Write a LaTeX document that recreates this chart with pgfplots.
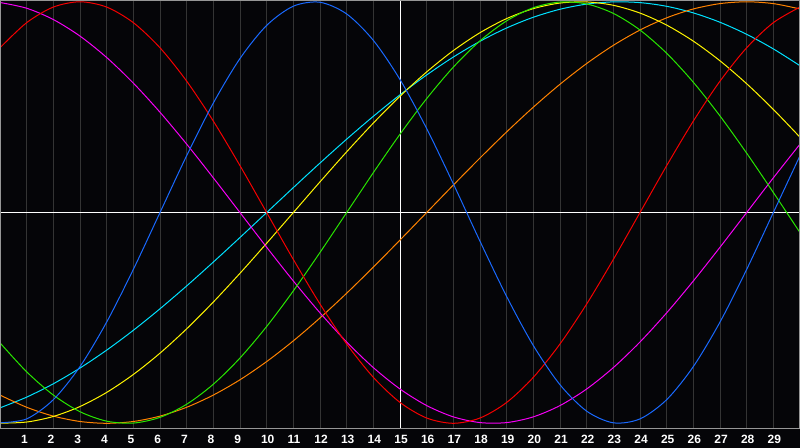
\documentclass[border=0pt]{standalone}
\usepackage{pgfplots}
\pgfplotsset{compat=1.18}
\usepackage{fontspec}
\setmainfont{Liberation Sans}
\definecolor{bg}{RGB}{5,5,8}
\definecolor{gridc}{RGB}{52,52,52}
\definecolor{framec}{RGB}{150,150,150}
\definecolor{cblue}{RGB}{25,105,255}
\definecolor{cred}{RGB}{245,0,0}
\definecolor{cgreen}{RGB}{40,230,0}
\definecolor{cmag}{RGB}{245,0,245}
\definecolor{cyel}{RGB}{255,245,0}
\definecolor{corange}{RGB}{255,130,0}
\definecolor{ccyan}{RGB}{0,225,255}
\begin{document}
\begin{tikzpicture}
\fill[bg] (0,0) rectangle (800bp,448bp);
\begin{axis}[
  at={(0bp,20bp)}, anchor=south west,
  width=800bp, height=428bp, scale only axis,
  xmin=0, xmax=30, ymin=-1.0223, ymax=1.0085,
  axis line style={draw=none},
  xtick={1,...,29},
  xticklabels={1,2,3,4,5,6,7,8,9,10,11,12,13,14,15,16,17,18,19,20,21,22,23,24,25,26,27,28,29},
  ytick=\empty,
  major tick length=0pt,
  tick style={draw=none},
  xmajorgrids,
  grid style={draw=gridc, line width=1bp},
  xticklabel style={font=\bfseries\fontsize{12bp}{12bp}\selectfont, text=white, anchor=base west, inner sep=0pt, xshift=-5.8bp, yshift=-15.3bp},
  xticklabel shift=0pt,
  every axis plot/.append style={line width=1bp, no marks, smooth},
  clip=true,
]
\draw[white, line width=1bp] (axis cs:15,-2) -- (axis cs:15,2);
\draw[white, line width=1bp] (axis cs:-1,0) -- (axis cs:31,0);
% 53
\addplot[ccyan] coordinates {(0,-0.9267)(1,-0.8758)(2,-0.8125)(3,-0.7378)(4,-0.6528)(5,-0.5587)(6,-0.4566)(7,-0.3482)(8,-0.2349)(9,-0.1183)(10,0)(11,0.1183)(12,0.2349)(13,0.3482)(14,0.4566)(15,0.5587)(16,0.6528)(17,0.7378)(18,0.8125)(19,0.8758)(20,0.9267)(21,0.9646)(22,0.9890)(23,0.9996)(24,0.9961)(25,0.9786)(26,0.9473)(27,0.9028)(28,0.8457)(29,0.7765)(30,0.6966)};
% 48
\addplot[corange] coordinates {(0,-0.8660)(1,-0.9239)(2,-0.9659)(3,-0.9914)(4,-1)(5,-0.9914)(6,-0.9659)(7,-0.9239)(8,-0.8660)(9,-0.7934)(10,-0.7071)(11,-0.6088)(12,-0.5)(13,-0.3827)(14,-0.2588)(15,-0.1305)(16,0)(17,0.1305)(18,0.2588)(19,0.3827)(20,0.5)(21,0.6088)(22,0.7071)(23,0.7934)(24,0.8660)(25,0.9239)(26,0.9659)(27,0.9914)(28,1)(29,0.9914)(30,0.9659)};
% 43
\addplot[cyel] coordinates {(0,-0.9993)(1,-0.9940)(2,-0.9675)(3,-0.9204)(4,-0.8534)(5,-0.7684)(6,-0.6672)(7,-0.5518)(8,-0.4245)(9,-0.2881)(10,-0.1456)(11,0)(12,0.1456)(13,0.2881)(14,0.4245)(15,0.5518)(16,0.6672)(17,0.7684)(18,0.8534)(19,0.9204)(20,0.9675)(21,0.9940)(22,0.9993)(23,0.9834)(24,0.9465)(25,0.8894)(26,0.8133)(27,0.7199)(28,0.6112)(29,0.4894)(30,0.3573)};
% 38
\addplot[cmag] coordinates {(0,0.9966)(1,0.9694)(2,0.9158)(3,0.8372)(4,0.7357)(5,0.6142)(6,0.4759)(7,0.3247)(8,0.1646)(9,0)(10,-0.1646)(11,-0.3247)(12,-0.4759)(13,-0.6142)(14,-0.7357)(15,-0.8372)(16,-0.9158)(17,-0.9694)(18,-0.9966)(19,-0.9966)(20,-0.9694)(21,-0.9158)(22,-0.8372)(23,-0.7357)(24,-0.6142)(25,-0.4759)(26,-0.3247)(27,-0.1646)(28,0)(29,0.1646)(30,0.3247)};
% 33
\addplot[cgreen] coordinates {(0,-0.6182)(1,-0.7557)(2,-0.8660)(3,-0.9450)(4,-0.9898)(5,-0.9989)(6,-0.9718)(7,-0.9096)(8,-0.8146)(9,-0.6901)(10,-0.5406)(11,-0.3717)(12,-0.1893)(13,0)(14,0.1893)(15,0.3717)(16,0.5406)(17,0.6901)(18,0.8146)(19,0.9096)(20,0.9718)(21,0.9989)(22,0.9898)(23,0.9450)(24,0.8660)(25,0.7557)(26,0.6182)(27,0.4582)(28,0.2817)(29,0.0951)(30,-0.0951)};
% 28
\addplot[cred] coordinates {(0,0.7818)(1,0.9010)(2,0.9749)(3,1)(4,0.9749)(5,0.9010)(6,0.7818)(7,0.6235)(8,0.4339)(9,0.2225)(10,0)(11,-0.2225)(12,-0.4339)(13,-0.6235)(14,-0.7818)(15,-0.9010)(16,-0.9749)(17,-1)(18,-0.9749)(19,-0.9010)(20,-0.7818)(21,-0.6235)(22,-0.4339)(23,-0.2225)(24,0)(25,0.2225)(26,0.4339)(27,0.6235)(28,0.7818)(29,0.9010)(30,0.9749)};
% 23
\addplot[cblue] coordinates {(0,-0.9977)(1,-0.9791)(2,-0.8879)(3,-0.7308)(4,-0.5196)(5,-0.2698)(6,0)(7,0.2698)(8,0.5196)(9,0.7308)(10,0.8879)(11,0.9791)(12,0.9977)(13,0.9423)(14,0.8170)(15,0.6311)(16,0.3984)(17,0.1362)(18,-0.1362)(19,-0.3984)(20,-0.6311)(21,-0.8170)(22,-0.9423)(23,-0.9977)(24,-0.9791)(25,-0.8879)(26,-0.7308)(27,-0.5196)(28,-0.2698)(29,0)(30,0.2698)};
\end{axis}
\draw[framec, line width=1bp] (0.5bp,19.5bp) rectangle (799.5bp,447.5bp);
\pgfresetboundingbox
\useasboundingbox (0,0) rectangle (800bp,448bp);
\end{tikzpicture}
\end{document}
